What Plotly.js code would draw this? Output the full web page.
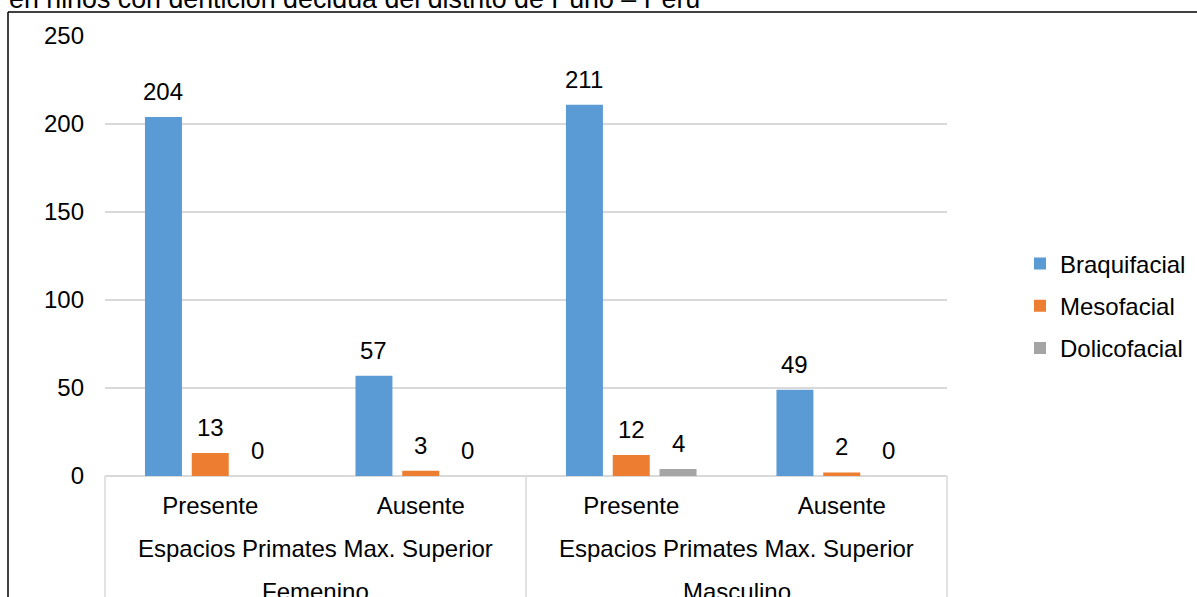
<!DOCTYPE html>
<html>
<head>
<meta charset="utf-8">
<script src="https://cdn.plot.ly/plotly-3.0.1.min.js"></script>
<style>html,body{margin:0;padding:0;background:#fff;}</style>
</head>
<body>
<div id="chart" style="width:1197px;height:597px;"></div>
<script>
// ---- data ----
const categories = ["Femenino|Presente", "Femenino|Ausente", "Masculino|Presente", "Masculino|Ausente"];
const innerLabels = ["Presente", "Ausente", "Presente", "Ausente"];
const middleLabel = "Espacios Primates Max. Superior";
const groupLabels = ["Femenino", "Masculino"];
const seriesNames = ["Braquifacial", "Mesofacial", "Dolicofacial"];
const braquifacial = [204, 57, 211, 49];
const mesofacial = [13, 3, 12, 2];
const dolicofacial = [0, 0, 4, 0];
const yTicks = [0, 50, 100, 150, 200, 250];
const titleText = "en niños con dentición decidua del distrito de Puno – Perú";

// ---- styles ----
const colors = ["#5B9BD5", "#ED7D31", "#A5A5A5"];
const FONT = "Liberation Sans, Arial, sans-serif";
const FS = 24;
const W = 1197, H = 597;
const M = {l: 105, r: 250, t: 36, b: 121, autoexpand: false};
const plotW = W - M.l - M.r, plotH = H - M.t - M.b;
const px2x = p => (p - M.l) / plotW;
const py2y = p => (H - M.b - p) / plotH;

const bargap = 0.333, bargroupgap = 0.21;
const series = [braquifacial, mesofacial, dolicofacial];

const traces = series.map((vals, i) => ({
  type: "bar",
  name: seriesNames[i],
  x: categories,
  y: vals,
  marker: {color: colors[i]},
  legendgroup: "g" + i,
  hoverinfo: "x+y+name"
}));

// data labels above each bar
const slot = (1 - bargap) / series.length;
const annotations = [];
series.forEach((vals, i) => {
  vals.forEach((v, j) => {
    annotations.push({
      x: j + (i - (series.length - 1) / 2) * slot,
      y: v, xref: "x", yref: "y",
      text: String(v), showarrow: false,
      yanchor: "bottom", yshift: 10,
      font: {family: FONT, size: FS, color: "#000"}
    });
  });
});

// multi-level category labels
groupLabels.forEach((g, k) => {
  annotations.push({
    x: 2 * k + 0.5, xref: "x", y: py2y(548), yref: "paper",
    text: middleLabel, showarrow: false, yanchor: "middle",
    font: {family: FONT, size: FS, color: "#000"}
  });
  annotations.push({
    x: 2 * k + 0.5, xref: "x", y: py2y(591), yref: "paper",
    text: g, showarrow: false, yanchor: "middle",
    font: {family: FONT, size: FS, color: "#000"}
  });
});

// clipped caption at top
annotations.push({
  x: px2x(7), xref: "paper", xanchor: "left",
  y: py2y(-1), yref: "paper", yanchor: "middle",
  text: titleText, showarrow: false,
  font: {family: FONT, size: 26.8, color: "#000"}
});

const divColor = "#d9d9d9";
const shapes = [];
[0, 0.5, 1].forEach(xp => {
  shapes.push({type: "line", xref: "paper", yref: "paper",
    x0: xp, x1: xp, y0: 0, y1: py2y(610),
    line: {color: divColor, width: 1.5}});
});
// outer frame (black)
shapes.push({type: "line", xref: "paper", yref: "paper",
  x0: px2x(8), x1: px2x(1210), y0: py2y(12), y1: py2y(12),
  line: {color: "#000", width: 1.5}});
shapes.push({type: "line", xref: "paper", yref: "paper",
  x0: px2x(8), x1: px2x(8), y0: py2y(12), y1: py2y(610),
  line: {color: "#000", width: 1.5}});

const layout = {
  width: W, height: H, autosize: false,
  margin: M,
  paper_bgcolor: "#fff", plot_bgcolor: "#fff",
  font: {family: FONT, size: FS, color: "#000"},
  barmode: "group", bargap: bargap, bargroupgap: bargroupgap,
  showlegend: true,
  legend: {
    x: px2x(1020), xanchor: "left", y: py2y(306), yanchor: "middle",
    font: {family: FONT, size: FS, color: "#000"},
    traceorder: "grouped", tracegroupgap: 8,
    bgcolor: "rgba(0,0,0,0)"
  },
  xaxis: {
    type: "category", range: [-0.5, 3.5],
    tickmode: "array", tickvals: categories, ticktext: innerLabels,
    showgrid: false, showline: false, zeroline: false, ticks: "",
    tickfont: {family: FONT, size: FS, color: "#000"},
    ticklabelstandoff: 13, fixedrange: true, automargin: false
  },
  yaxis: {
    range: [0, 250], tickmode: "array", tickvals: yTicks,
    showgrid: true, gridcolor: divColor, gridwidth: 1.5,
    zeroline: true, zerolinecolor: divColor, zerolinewidth: 2,
    showline: false, ticks: "",
    tickfont: {family: FONT, size: FS, color: "#000"},
    ticklabelstandoff: 20, fixedrange: true, automargin: false
  },
  annotations: annotations,
  shapes: shapes
};

Plotly.newPlot("chart", traces, layout, {displayModeBar: false, staticPlot: true});
</script>
</body>
</html>
